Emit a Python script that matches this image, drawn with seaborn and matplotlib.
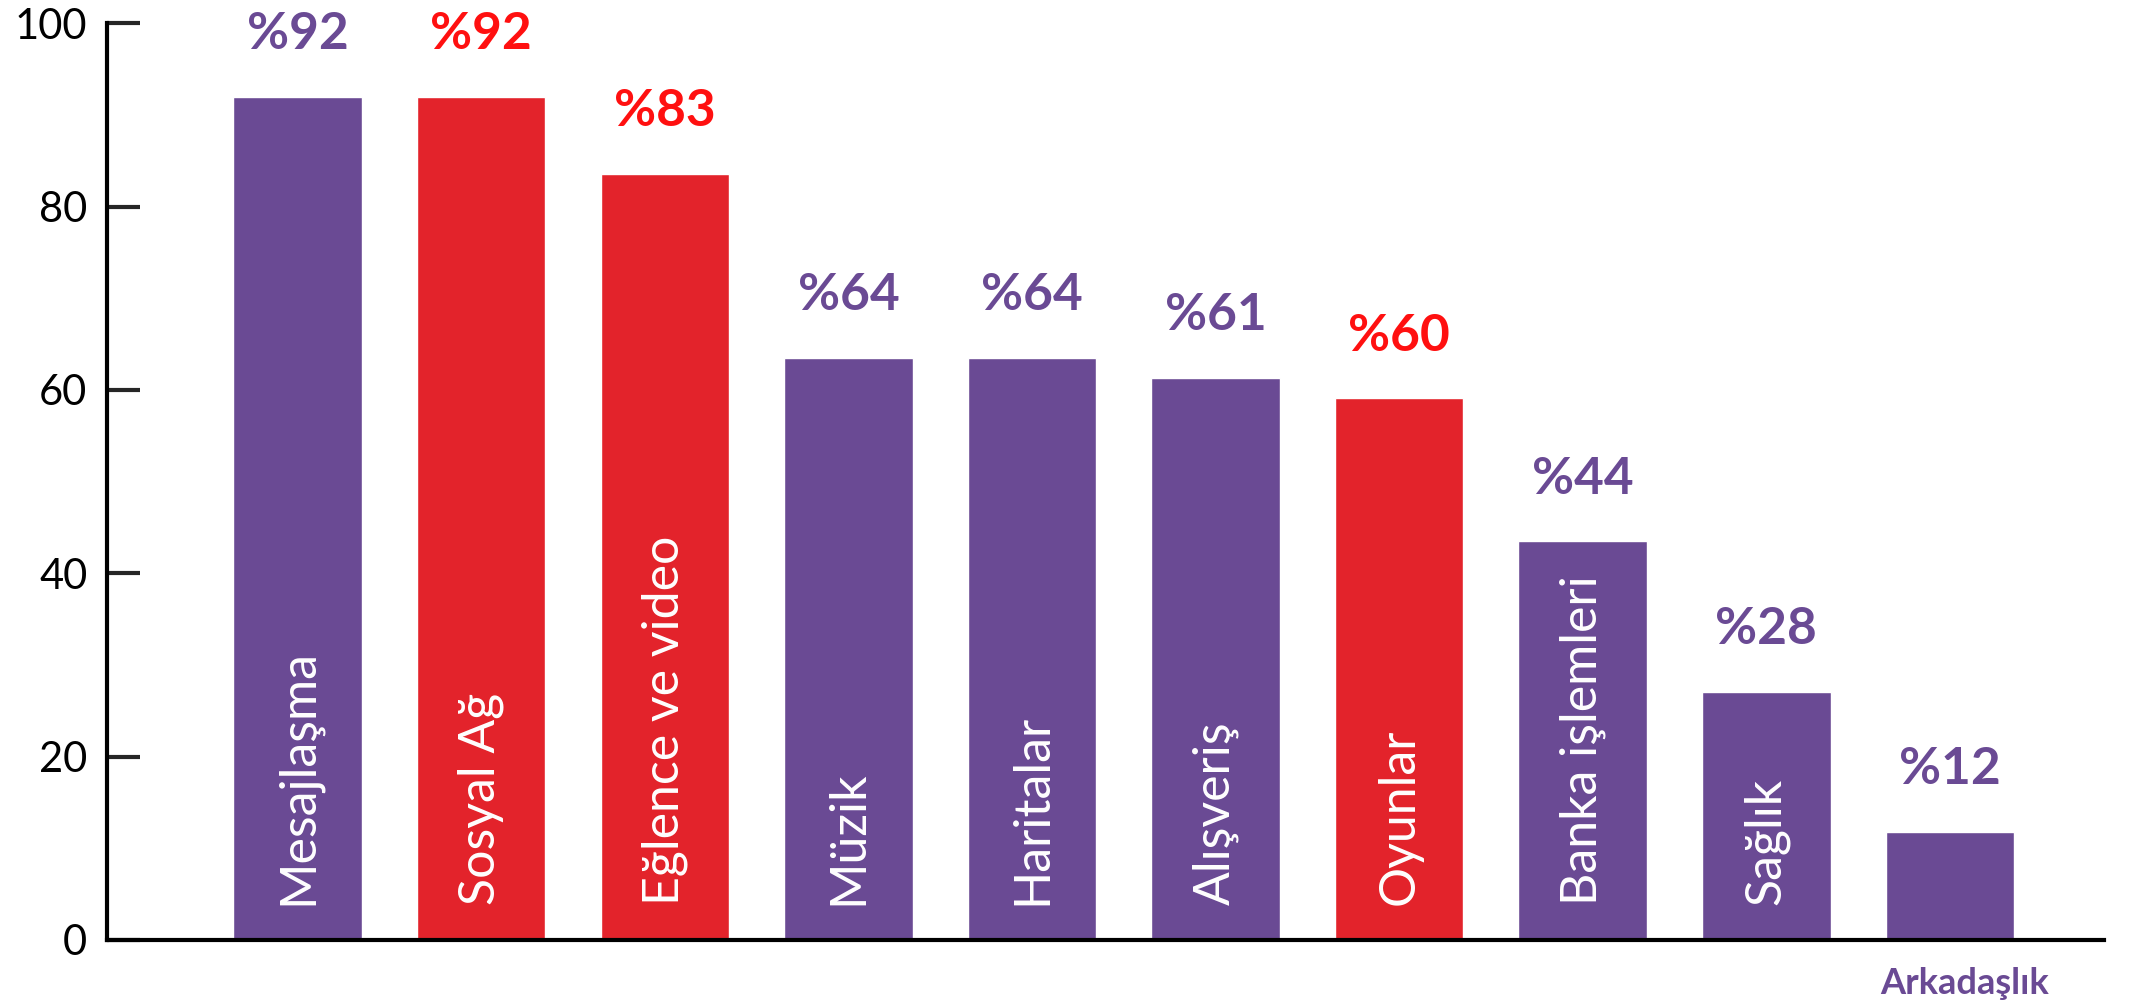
import matplotlib
matplotlib.use("Agg")
import matplotlib.pyplot as plt
import seaborn as sns

# data
categories = ["Mesajlaşma", "Sosyal Ağ", "Eğlence ve video", "Müzik", "Haritalar",
              "Alışveriş", "Oyunlar", "Banka işlemleri", "Sağlık", "Arkadaşlık"]
values = [92, 92, 83.6, 63.5, 63.5, 61.3, 59.1, 43.5, 27.1, 11.8]
value_labels = ["%92", "%92", "%83", "%64", "%64", "%61", "%60", "%44", "%28", "%12"]
highlight = [False, True, True, False, False, False, True, False, False, False]
yticks = [0, 20, 40, 60, 80, 100]

purple = "#6a4a94"
red = "#e3232b"
label_red = "#ff1010"

bar_colors = [red if h else purple for h in highlight]
text_colors = [label_red if h else purple for h in highlight]

sns.set_theme(style="white")
plt.rcParams["font.family"] = ["Lato", "DejaVu Sans"]

fig = plt.figure(figsize=(21.34, 10.08), dpi=100)
ax = fig.add_axes([0.050, 0.0675, 0.936, 0.9095])

sns.barplot(x=categories, y=values, hue=categories, palette=bar_colors,
            legend=False, width=0.7, saturation=1, ax=ax)

ax.set_ylim(0, 100)
ax.set_xlim(-1.04, 9.84)
ax.set_yticks(yticks)
ax.set_yticklabels([str(t) for t in yticks], fontsize=30, color="black")
ax.set_xticks([])
ax.set_xlabel("")
ax.set_ylabel("")
ax.tick_params(axis="y", direction="in", length=24, width=3, pad=14, left=True)

for s in ["top", "right"]:
    ax.spines[s].set_visible(False)
for s in ["left", "bottom"]:
    ax.spines[s].set_color("black")
    ax.spines[s].set_linewidth(3)

# labels above bars and inside bars
for i, (cat, v) in enumerate(zip(categories, values)):
    ax.text(i, v + 4.2, value_labels[i], ha="center", va="bottom",
            fontsize=37, fontweight="bold", color=text_colors[i], clip_on=False)
    if i < len(categories) - 1:
        ax.text(i, 3.8, cat, rotation=90, rotation_mode="anchor", ha="left", va="center",
                fontsize=36, color="white")
    else:
        ax.text(i + 0.08, -3.0, cat, ha="center", va="top",
                fontsize=26, fontweight="bold", color=purple, clip_on=False)

fig.savefig("out.png", dpi=100)
